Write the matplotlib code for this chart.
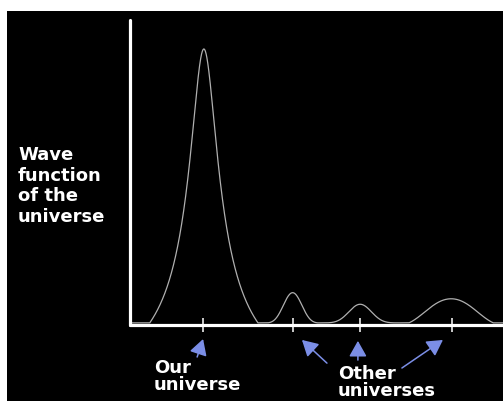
"""Wave function of the universe: one dominant peak, several small ones."""
import matplotlib
matplotlib.use("Agg")
import matplotlib.pyplot as plt
import numpy as np
from matplotlib.patches import Rectangle

# ---- data (x in axis units, 0..10; y as fraction) ----
MAIN_CENTER = 1.98
MAIN_HEIGHT = 0.898
MAIN_GAMMA = 0.375      # half-width scale of the crest
MAIN_POWER = 0.55       # tail heaviness
MAIN_CUTOFF = 1.45      # skirt meets the baseline here

SMALL_CENTERS = [4.36, 6.17, 8.61]
SMALL_HEIGHTS = [0.099, 0.061, 0.079]
SMALL_SIGMAS = [0.244, 0.300, 0.633]
SMALL_CUTOFFS = [0.67, 0.94, 1.13]

TICKS = [1.96, 4.37, 6.17, 8.63]

Y_LABEL = "Wave\nfunction\nof the\nuniverse"
OUR_LABEL = "Our\nuniverse"
OTHER_LABEL = "Other\nuniverses"

# arrows: (tail x, tail y) -> (tip x, tip y), data units
ARROW_TAILS = [(1.80, -0.105), (5.28, -0.125), (6.11, -0.115), (7.29, -0.141)]
ARROW_TIPS = [(1.96, -0.046), (4.61, -0.049), (6.11, -0.052), (8.39, -0.049)]

CURVE = "#b0b0b0"
ARROW = "#7b8ee6"
W, H = 503, 401

fig = plt.figure(figsize=(W / 100, H / 100), dpi=100, facecolor="white")
fig.patches.append(Rectangle((7 / W, 0), 1 - 7 / W, 1 - 11 / H,
                             transform=fig.transFigure, facecolor="black",
                             edgecolor="none", zorder=-10))

ax = fig.add_axes([130 / W, (H - 325) / H, 373 / W, 305 / H])
ax.set_facecolor("none")
ax.set_xlim(0, 10)
ax.set_ylim(0, 1)


def crest(dist):
    return (1 + (dist / MAIN_GAMMA) ** 2) ** (-MAIN_POWER)


x = np.linspace(0, 10, 3000)
d = x - MAIN_CENTER
floor = crest(MAIN_CUTOFF)
y = MAIN_HEIGHT * np.clip((crest(d) - floor) / (1 - floor), 0, None)
for c, h, s, w in zip(SMALL_CENTERS, SMALL_HEIGHTS, SMALL_SIGMAS, SMALL_CUTOFFS):
    dd = x - c
    y += h * np.exp(-dd ** 2 / (2 * s ** 2)) * np.clip(1 - (dd / w) ** 4, 0, None)

ax.plot(x, y + 0.007, color=CURVE, lw=0.9, clip_on=False)

for side in ("top", "right"):
    ax.spines[side].set_visible(False)
for side in ("left", "bottom"):
    ax.spines[side].set_color("white")
    ax.spines[side].set_linewidth(2.3)
    ax.spines[side].set_capstyle("round")

ax.set_xticks(TICKS)
ax.set_xticklabels([])
ax.set_yticks([])
ax.tick_params(axis="x", direction="inout", length=10, width=1.1, color="white")


def put_label(txt, left, last_baseline, spacing):
    fig.text(left / W, 1 - (last_baseline + 4) / H, txt, color="white",
             fontsize=13, fontweight="bold", family="DejaVu Sans",
             ha="left", va="bottom", multialignment="left",
             linespacing=spacing)


put_label(Y_LABEL, 18, 222, 1.18)
put_label(OUR_LABEL, 154, 390, 0.9)
put_label(OTHER_LABEL, 338, 396, 0.96)

for tail, tip in zip(ARROW_TAILS, ARROW_TIPS):
    ax.annotate("", xy=tip, xytext=tail, xycoords="data", textcoords="data",
                annotation_clip=False,
                arrowprops=dict(arrowstyle="-|>,head_length=0.8,head_width=0.45",
                                color=ARROW, lw=1.1, mutation_scale=12,
                                shrinkA=0, shrinkB=0))

fig.savefig("out.png", dpi=100, facecolor="white")
